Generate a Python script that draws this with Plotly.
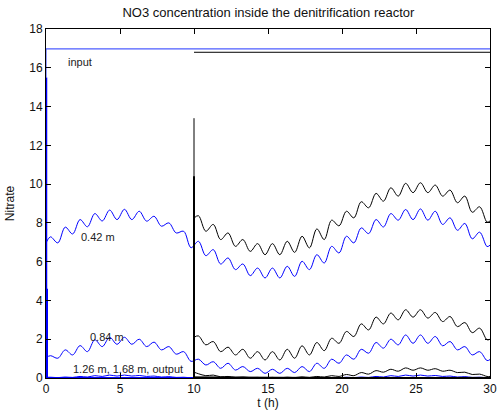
import plotly.graph_objects as go

# --- time grids (extrema of the fast oscillation) ---
T1 = [0.0, 0.3, 0.8, 1.3, 1.8, 2.3, 2.8, 3.3, 3.8, 4.3, 4.8, 5.3, 5.8, 6.3, 6.8, 7.3, 7.8, 8.3, 8.8, 9.3, 9.8]
T2 = [10.3, 10.8, 11.3, 11.8, 12.3, 12.8, 13.3, 13.8, 14.3, 14.8, 15.3, 15.8, 16.3, 16.8, 17.3, 17.8, 18.3, 18.8, 19.3, 19.8]
T3 = [20.3, 20.8, 21.3, 21.8, 22.3, 22.8, 23.3, 23.8, 24.3, 24.8, 25.3, 25.8, 26.3, 26.8, 27.3, 27.8, 28.3, 28.8, 29.3, 29.8, 30.0]
T_BLUE = T1 + T2 + T3
T_BLACK = [10.0] + T2 + T3

# --- blue runs (0-30 h) ---
BLUE_042 = [6.97, 7.28, 6.97, 7.78, 7.43, 8.17, 7.80, 8.48, 8.10, 8.66, 8.17, 8.70, 8.17, 8.60, 8.09, 8.34, 7.83, 8.00, 7.48, 7.57, 6.72,
            7.05, 6.31, 6.62, 5.88, 6.19, 5.59, 5.88, 5.28, 5.67, 5.16, 5.67, 5.16, 5.76, 5.24, 6.02, 5.59, 6.36, 5.93, 6.79, 6.45,
            7.31, 6.97, 7.74, 7.45, 8.17, 7.79, 8.48, 8.14, 8.69, 8.17, 8.72, 8.14, 8.60, 7.92, 8.26, 7.62, 7.97, 7.18, 7.52, 6.78, 6.85]
BLUE_084 = [1.05, 1.15, 1.02, 1.45, 1.19, 1.67, 1.36, 1.97, 1.62, 2.10, 1.74, 2.10, 1.74, 2.00, 1.62, 1.85, 1.45, 1.62, 1.23, 1.36, 0.86,
            0.97, 0.67, 0.84, 0.50, 0.76, 0.41, 0.59, 0.33, 0.50, 0.24, 0.45, 0.24, 0.50, 0.28, 0.59, 0.33, 0.76, 0.50, 0.97, 0.76,
            1.19, 0.97, 1.48, 1.28, 1.83, 1.54, 2.00, 1.71, 2.22, 1.79, 2.22, 1.79, 2.14, 1.66, 1.88, 1.45, 1.62, 1.19, 1.36, 0.90, 0.95]
BLUE_126 = [0.03, 0.04, 0.02, 0.05, 0.03, 0.08, 0.05, 0.12, 0.08, 0.15, 0.10, 0.15, 0.10, 0.13, 0.08, 0.10, 0.05, 0.07, 0.03, 0.04, 0.01,
            0.02, 0.01, 0.01, 0.00, 0.01, 0.00, 0.01, 0.00, 0.00, 0.00, 0.00, 0.00, 0.01, 0.00, 0.01, 0.00, 0.01, 0.00, 0.02, 0.01,
            0.04, 0.02, 0.05, 0.03, 0.08, 0.05, 0.12, 0.08, 0.15, 0.10, 0.15, 0.10, 0.13, 0.08, 0.10, 0.05, 0.07, 0.03, 0.04, 0.01, 0.01]

# --- black runs (10-30 h) ---
BLACK_042 = [8.25,
             8.37, 7.57, 7.92, 7.14, 7.48, 6.79, 7.14, 6.53, 6.93, 6.36, 6.93, 6.36, 7.05, 6.48, 7.31, 6.71, 7.69, 7.14, 8.14, 7.85,
             8.60, 8.26, 9.09, 8.78, 9.52, 9.12, 9.81, 9.38, 10.04, 9.56, 10.07, 9.56, 9.95, 9.38, 9.69, 9.04, 9.38, 8.55, 8.83, 8.04, 8.10]
BLACK_084 = [2.10,
             2.17, 1.71, 1.88, 1.36, 1.59, 1.19, 1.48, 1.02, 1.36, 0.93, 1.36, 0.93, 1.48, 1.02, 1.66, 1.19, 1.83, 1.41, 2.05, 1.79,
             2.40, 2.14, 2.79, 2.48, 3.14, 2.79, 3.35, 3.00, 3.52, 3.14, 3.52, 3.09, 3.38, 2.91, 3.17, 2.65, 2.86, 2.34, 2.57, 1.97, 2.00]
BLACK_126 = [0.30,
             0.22, 0.12, 0.15, 0.06, 0.08, 0.03, 0.05, 0.02, 0.03, 0.01, 0.03, 0.01, 0.04, 0.02, 0.06, 0.03, 0.08, 0.05, 0.12, 0.08,
             0.18, 0.12, 0.28, 0.20, 0.38, 0.30, 0.45, 0.35, 0.52, 0.40, 0.52, 0.40, 0.48, 0.35, 0.40, 0.28, 0.30, 0.18, 0.20, 0.08, 0.08]

# --- deeper layers / output (near zero) ---
LOW_T_BLUE = [0, 10, 20, 30]
BLUE_168 = [0.02, 0.01, 0.01, 0.01]
BLUE_OUT = [0.00, 0.00, 0.00, 0.00]
LOW_T_BLACK = [10, 20, 30]
BLACK_168 = [0.05, 0.02, 0.03]
BLACK_OUT = [0.02, 0.00, 0.00]

# --- start-up transients ---
SPIKE_T_BLUE = [0, 0]
SPIKE_BLUE_042 = [0, 15.5]
SPIKE_BLUE_084 = [0, 4.6]
SPIKE_T_BLACK = [10, 10]
SPIKE_BLACK_042 = [0, 13.4]
SPIKE_BLACK_084 = [0, 10.4]

# --- input concentrations ---
INPUT_T_BLUE = [0, 0, 30]
INPUT_BLUE = [15.5, 16.97, 16.97]
INPUT_T_BLACK = [10, 30]
INPUT_BLACK = [16.8, 16.8]

# --- labels ---
LABELS = ["input", "0.42 m", "0.84 m", "1.26 m, 1.68 m, output"]
LABEL_T = [2.3, 3.5, 4.1, 5.55]
LABEL_Y = [16.3, 7.26, 2.14, 0.46]

X_TICKS = [0, 5, 10, 15, 20, 25, 30]
Y_TICKS = [0, 2, 4, 6, 8, 10, 12, 14, 16, 18]

BLUE = "#0000ff"
BLACK = "#000000"
FONT = "Liberation Sans, Arial, sans-serif"

fig = go.Figure()

def add(x, y, color, width=1, shape="spline"):
    fig.add_trace(go.Scatter(x=x, y=y, mode="lines", showlegend=False, hoverinfo="skip",
                             line=dict(color=color, width=width, shape=shape, smoothing=1.0)))

add(INPUT_T_BLUE, INPUT_BLUE, "#4d5dff", 1.2, "linear")
add(INPUT_T_BLACK, INPUT_BLACK, BLACK, 1, "linear")

add(T_BLUE, BLUE_042, BLUE)
add(T_BLUE, BLUE_084, BLUE)
add(T_BLUE, BLUE_126, BLUE)
add(LOW_T_BLUE, BLUE_168, BLUE, 1, "linear")
add(LOW_T_BLUE, BLUE_OUT, BLUE, 1.5, "linear")

add(T_BLACK, BLACK_042, BLACK)
add(T_BLACK, BLACK_084, BLACK)
add(T_BLACK, BLACK_126, BLACK)
add(LOW_T_BLACK, BLACK_168, BLACK, 1, "linear")
add(LOW_T_BLACK, BLACK_OUT, BLACK, 1.5, "linear")

add(SPIKE_T_BLUE, SPIKE_BLUE_042, BLUE, 2.5, "linear")
add(SPIKE_T_BLUE, SPIKE_BLUE_084, BLUE, 4, "linear")
add(SPIKE_T_BLACK, SPIKE_BLACK_042, BLACK, 1, "linear")
add(SPIKE_T_BLACK, SPIKE_BLACK_084, BLACK, 2, "linear")

for txt, tx, ty in zip(LABELS, LABEL_T, LABEL_Y):
    fig.add_annotation(x=tx, y=ty, text=txt, showarrow=False, xanchor="center", yanchor="middle",
                       font=dict(family=FONT, size=11, color="#222222"))

axis_common = dict(showline=True, linecolor="#000000", linewidth=1, mirror="ticks",
                   ticks="inside", ticklen=5, tickcolor="#000000", showgrid=False, zeroline=False,
                   automargin=False,
                   tickfont=dict(family=FONT, size=12, color="#111111"))

fig.update_layout(
    width=497, height=418,
    margin=dict(l=46, r=7, t=29, b=40),
    paper_bgcolor="white", plot_bgcolor="white",
    title=dict(text="NO3 concentration inside the denitrification reactor",
               x=0.54, xanchor="center", y=0.971, yanchor="middle",
               font=dict(family=FONT, size=13, color="#111111")),
    xaxis=dict(range=[0, 30], tickvals=X_TICKS, **axis_common,
               title=dict(text="t (h)", standoff=3, font=dict(family=FONT, size=12, color="#111111"))),
    yaxis=dict(range=[0, 18], tickvals=Y_TICKS, **axis_common,
               title=dict(text="Nitrate", standoff=12, font=dict(family=FONT, size=12, color="#111111"))),
)

fig.write_html("out.html", config={"displayModeBar": False},
               post_script="document.body.style.margin='0';document.body.style.padding='0';")
